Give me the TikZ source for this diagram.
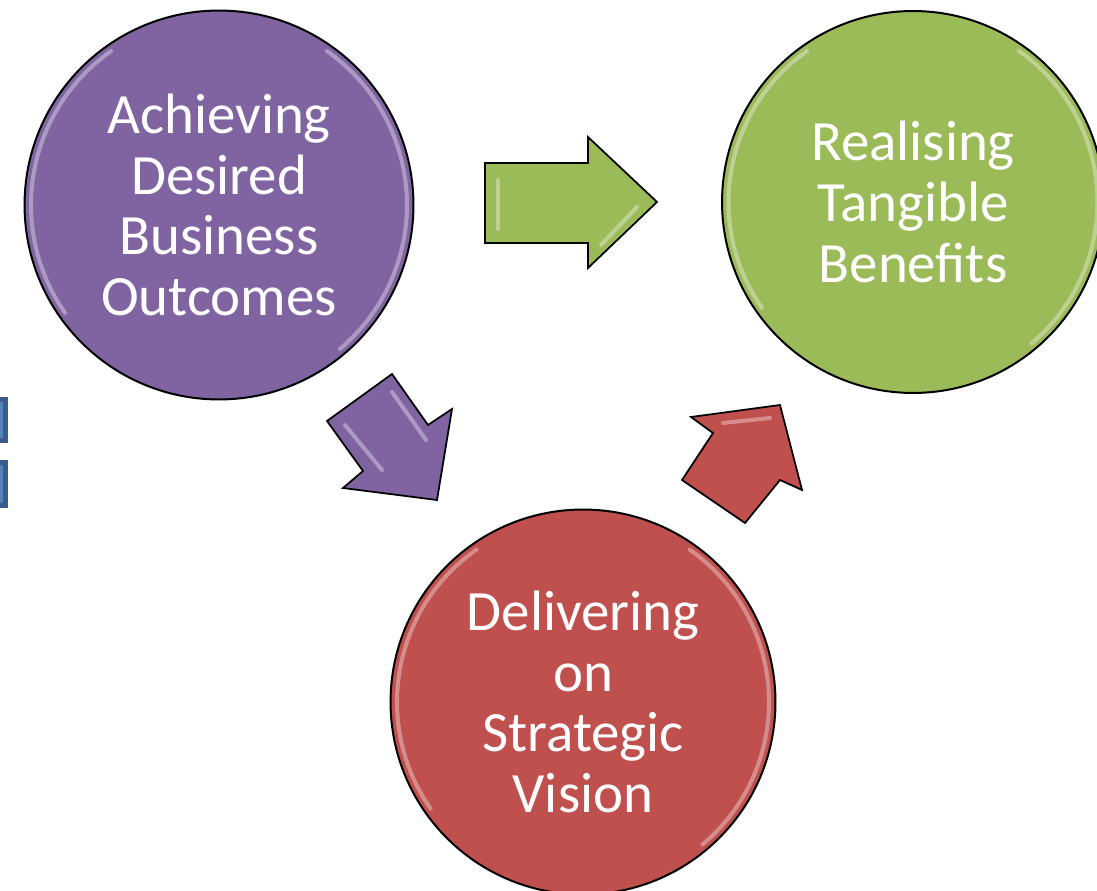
\documentclass[tikz,border=0pt]{standalone}
\usepackage{fontspec}
\setmainfont{Carlito}
\definecolor{mauve}{HTML}{8064A2}
\definecolor{vert}{HTML}{9BBB59}
\definecolor{rouge}{HTML}{C0504D}
\definecolor{bleu}{HTML}{4F81BD}
\definecolor{bleufonce}{HTML}{385D8A}

\begin{document}
\begin{tikzpicture}[x=0.02cm, y=-0.02cm]
	\tikzset{bulle/.style={circle, draw=black, line width=0.04cm, inner sep=0, text=white, align=center, font=\fontsize{32.4}{34.6}\selectfont},
		pousse/.style={draw=black, line width=0.035cm, line join=miter},
		reflet/.style={white, opacity=0.35, line width=0.08cm, line cap=round},
		bouton/.style={fill=bleu, draw=bleufonce, line width=0.1cm}};

	\useasboundingbox (0,0) rectangle (1097,891);
	\clip (0,0) rectangle (1097,891);

	% deux boutons coupes au bord gauche
	\draw[bouton] (-40,399.5) rectangle (5.5,440.5);
	\draw[bouton] (-40,462.5) rectangle (5.5,505.5);

	\node[bulle, fill=mauve, minimum size=7.78cm] (atteindre) at (219,205) {Achieving\\Desired\\Business\\Outcomes};
	\node[bulle, fill=vert,  minimum size=7.64cm] (realiser)  at (913,202) {Realising\\Tangible\\Benefits};
	\node[bulle, fill=rouge, minimum size=7.70cm] (livrer)    at (583,702) {Delivering\\on\\Strategic\\Vision};

	% reflets le long du bord
	\foreach \b/\r in {atteindre/3.76cm, realiser/3.69cm, livrer/3.72cm} {
		\draw[reflet] (\b.center) ++(125:\r) arc[start angle=125, end angle=215, radius=\r];
		\draw[reflet] (\b.center) ++(55:\r) arc[start angle=55, end angle=-50, radius=\r];
	}

	% fleches
	\draw[pousse, fill=vert]  (485,163) -- (588,163) -- (588,137) -- (657,202) -- (588,268) -- (588,243) -- (485,243) -- cycle;
	\draw[pousse, fill=mauve] (392,374) -- (428,425) -- (452,409) -- (437,500) -- (343,488) -- (363,471) -- (327,421) -- cycle;
	\draw[pousse, fill=rouge] (682,480) -- (713,433) -- (691,417) -- (780,405) -- (802,490) -- (780,480) -- (745,523) -- cycle;

	\draw[reflet] (498,180) -- (498,229);
	\draw[reflet] (637,207) -- (601,245);
	\draw[reflet] (345,425) -- (382,470);
	\draw[reflet] (392,392) -- (426,440);
	\draw[reflet] (723,423) -- (770,418);
\end{tikzpicture}
\end{document}
